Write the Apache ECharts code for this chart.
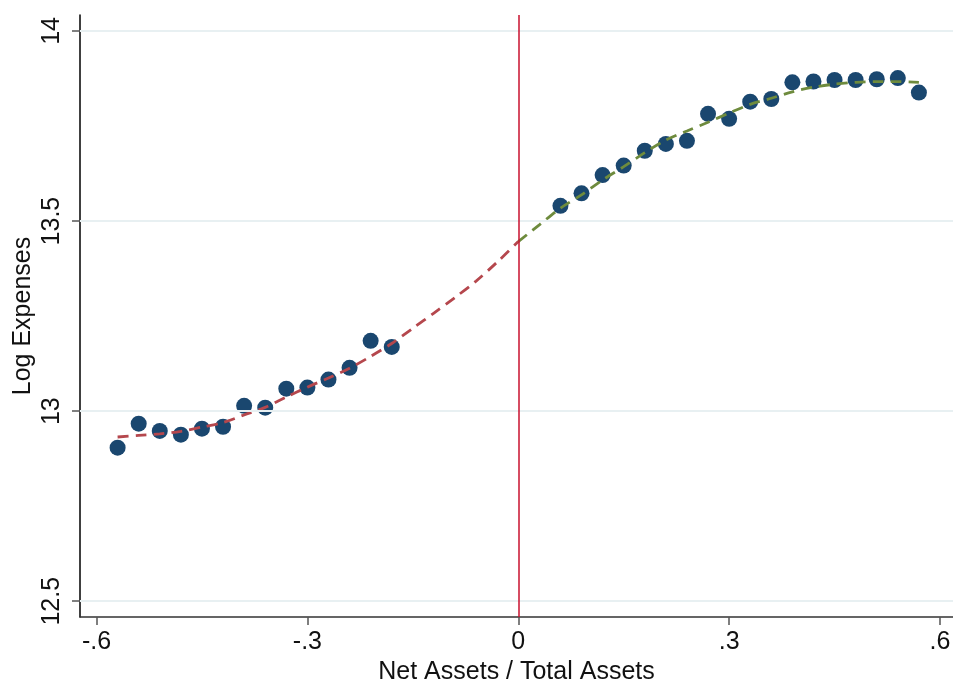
<!DOCTYPE html>
<html>
<head>
<meta charset="utf-8">
<script src="https://cdn.jsdelivr.net/npm/echarts@6/dist/echarts.min.js"></script>
<style>
html,body{margin:0;padding:0;background:#fff;}
#chart{width:953px;height:679px;}
</style>
</head>
<body>
<div id="chart"></div>
<script>
// Binned scatter (left of cutoff)
var leftX = [-0.57,-0.54,-0.51,-0.48,-0.45,-0.42,-0.39,-0.36,-0.33,-0.30,-0.27,-0.24,-0.21,-0.18];
var leftY = [12.904,12.967,12.948,12.938,12.954,12.959,13.014,13.009,13.059,13.062,13.083,13.114,13.185,13.169];
// Binned scatter (right of cutoff)
var rightX = [0.06,0.09,0.12,0.15,0.18,0.21,0.24,0.27,0.30,0.33,0.36,0.39,0.42,0.45,0.48,0.51,0.54,0.57];
var rightY = [13.540,13.573,13.621,13.646,13.685,13.703,13.711,13.782,13.769,13.814,13.821,13.865,13.867,13.871,13.871,13.873,13.876,13.838];
// Fitted curve left
var fitLeftX = [-0.57,-0.54,-0.51,-0.48,-0.45,-0.42,-0.39,-0.36,-0.33,-0.30,-0.27,-0.24,-0.21,-0.18,-0.15,-0.12,-0.09,-0.06,-0.03,0];
var fitLeftY = [12.932,12.936,12.940,12.947,12.958,12.970,12.990,13.010,13.037,13.063,13.087,13.113,13.144,13.178,13.218,13.258,13.299,13.342,13.392,13.446];
// Fitted curve right
var fitRightX = [0,0.03,0.06,0.09,0.12,0.15,0.18,0.21,0.24,0.27,0.30,0.33,0.36,0.39,0.42,0.45,0.48,0.51,0.54,0.57];
var fitRightY = [13.446,13.490,13.534,13.569,13.608,13.643,13.680,13.713,13.737,13.760,13.784,13.807,13.823,13.840,13.852,13.860,13.865,13.867,13.867,13.865];
// Ticks
var xTicks = [-0.6,-0.3,0,0.3,0.6];
var xTickLabels = ['-.6','-.3','0','.3','.6'];
var yTicks = [12.5,13,13.5,14];
var yTickLabels = ['12.5','13','13.5','14'];
var cutoff = 0;

function zip(a,b){return a.map(function(v,i){return [v,b[i]];});}
function lab(ticks,labels){return function(v){for(var i=0;i<ticks.length;i++){if(Math.abs(ticks[i]-v)<1e-6)return labels[i];}return '';};}

var font = 'Liberation Sans, Arial, sans-serif';
var chart = echarts.init(document.getElementById('chart'), null, {renderer:'canvas'});
chart.setOption({
  animation:false,
  backgroundColor:'#ffffff',
  grid:{left:80,right:0,top:15,bottom:62,containLabel:false,outerBoundsMode:'none'},
  xAxis:{
    type:'value', min:-0.6235, max:0.6185,
    name:'Net Assets / Total Assets', nameLocation:'middle', nameGap:32,
    nameTextStyle:{fontFamily:font,fontSize:25,color:'#111'},
    axisLine:{show:true,onZero:false,lineStyle:{color:'#333',width:1.5}},
    axisTick:{show:true,length:8,customValues:xTicks,lineStyle:{color:'#555',width:1.5}},
    axisLabel:{customValues:xTicks,formatter:lab(xTicks,xTickLabels),fontFamily:font,fontSize:25,color:'#111',margin:13},
    splitLine:{show:false}
  },
  yAxis:{
    type:'value', min:12.4585, max:14.042,
    name:'Log Expenses', nameLocation:'middle', nameGap:44, nameMoveOverlap:false,
    nameTextStyle:{fontFamily:font,fontSize:25,color:'#111'},
    axisLine:{show:true,onZero:false,lineStyle:{color:'#000',width:1.5}},
    axisTick:{show:true,length:8,customValues:yTicks,lineStyle:{color:'#555',width:1.5}},
    axisLabel:{customValues:yTicks,formatter:lab(yTicks,yTickLabels),rotate:90,fontFamily:font,fontSize:25,color:'#111',margin:15},
    splitLine:{show:false}
  },
  series:[
    {type:'line',data:[],silent:true,
     markLine:{silent:true,symbol:'none',label:{show:false},
       lineStyle:{color:'#e8f0f2',width:2,type:'solid'},
       data:yTicks.map(function(v){return {yAxis:v};})}},
    {type:'line',data:zip(fitLeftX,fitLeftY),smooth:0.3,symbol:'none',
     lineStyle:{color:'#b5474d',width:2.8,type:[11,7]}},
    {type:'line',data:zip(fitRightX,fitRightY),smooth:0.3,symbol:'none',
     lineStyle:{color:'#6e8b3d',width:2.8,type:[11,7]}},
    {type:'scatter',data:zip(leftX,leftY),symbolSize:16,itemStyle:{color:'#1a476f',opacity:1}},
    {type:'scatter',data:zip(rightX,rightY),symbolSize:16,itemStyle:{color:'#1a476f',opacity:1},
     markLine:{silent:true,symbol:'none',label:{show:false},
       lineStyle:{color:'#c8102e',width:1.5,type:'solid'},
       data:[{xAxis:cutoff}]}}
  ]
});
</script>
</body>
</html>
